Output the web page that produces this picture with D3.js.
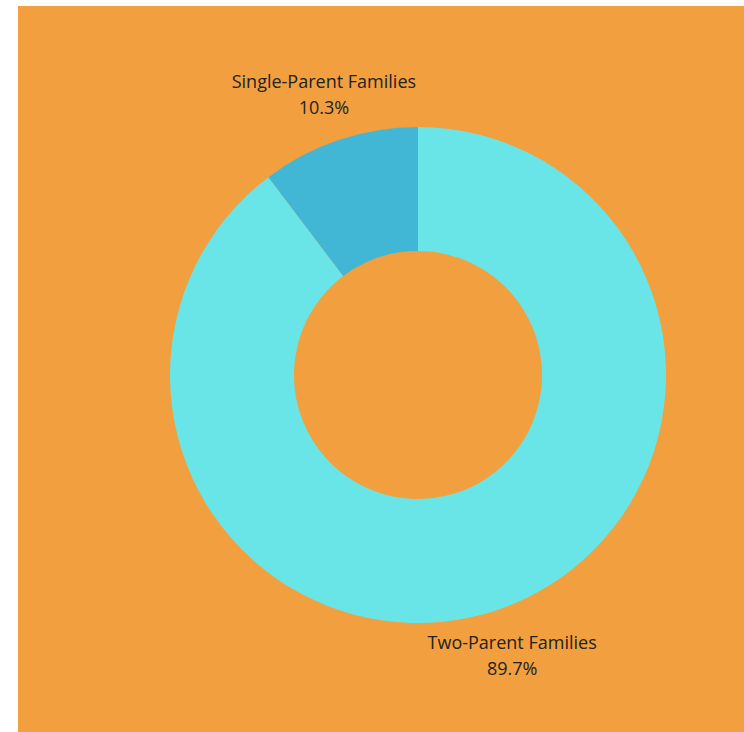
<!DOCTYPE html>
<html>
<head>
<meta charset="utf-8">
<script src="https://cdn.jsdelivr.net/npm/d3@7"></script>
<style>
  body { margin: 0; background: #fff; }
  svg { display: block; }
</style>
</head>
<body>
<svg id="chart" width="744" height="732"></svg>
<script>
// Data
const categories = ['Two-Parent Families', 'Single-Parent Families'];
const values = [89.7, 10.3];
const colors = ['#69E5E8', '#42B7D5'];

const width = 744, height = 732;
const cx = 418, cy = 375;
const outerR = 248, innerR = 124, labelR = 296;

const svg = d3.select('#chart')
  .attr('width', width)
  .attr('height', height);

// Orange panel
svg.append('rect')
  .attr('x', 18)
  .attr('y', 6)
  .attr('width', width - 18)
  .attr('height', height - 6)
  .attr('fill', '#F2A03F');

const data = categories.map((c, i) => ({ label: c, value: values[i], color: colors[i] }));

const pie = d3.pie()
  .sort(null)
  .value(d => d.value);

const arc = d3.arc()
  .innerRadius(innerR)
  .outerRadius(outerR);

const labelArc = d3.arc()
  .innerRadius(labelR)
  .outerRadius(labelR);

const g = svg.append('g')
  .attr('transform', `translate(${cx},${cy})`);

const arcs = pie(data);

g.selectAll('path')
  .data(arcs)
  .enter()
  .append('path')
  .attr('d', arc)
  .attr('fill', d => d.data.color);

// Labels
const labels = g.selectAll('.label')
  .data(arcs)
  .enter()
  .append('text')
  .attr('class', 'label')
  .attr('transform', d => `translate(${labelArc.centroid(d)})`)
  .attr('text-anchor', 'middle')
  .style('font-family', '"Open Sans", Lato, sans-serif')
  .style('font-size', '18px')
  .attr('fill', '#222');

labels.append('tspan')
  .attr('x', 0)
  .attr('dy', '-0.35em')
  .text(d => d.data.label);

labels.append('tspan')
  .attr('x', 0)
  .attr('dy', '1.45em')
  .text(d => d.data.value.toFixed(1) + '%');
</script>
</body>
</html>
